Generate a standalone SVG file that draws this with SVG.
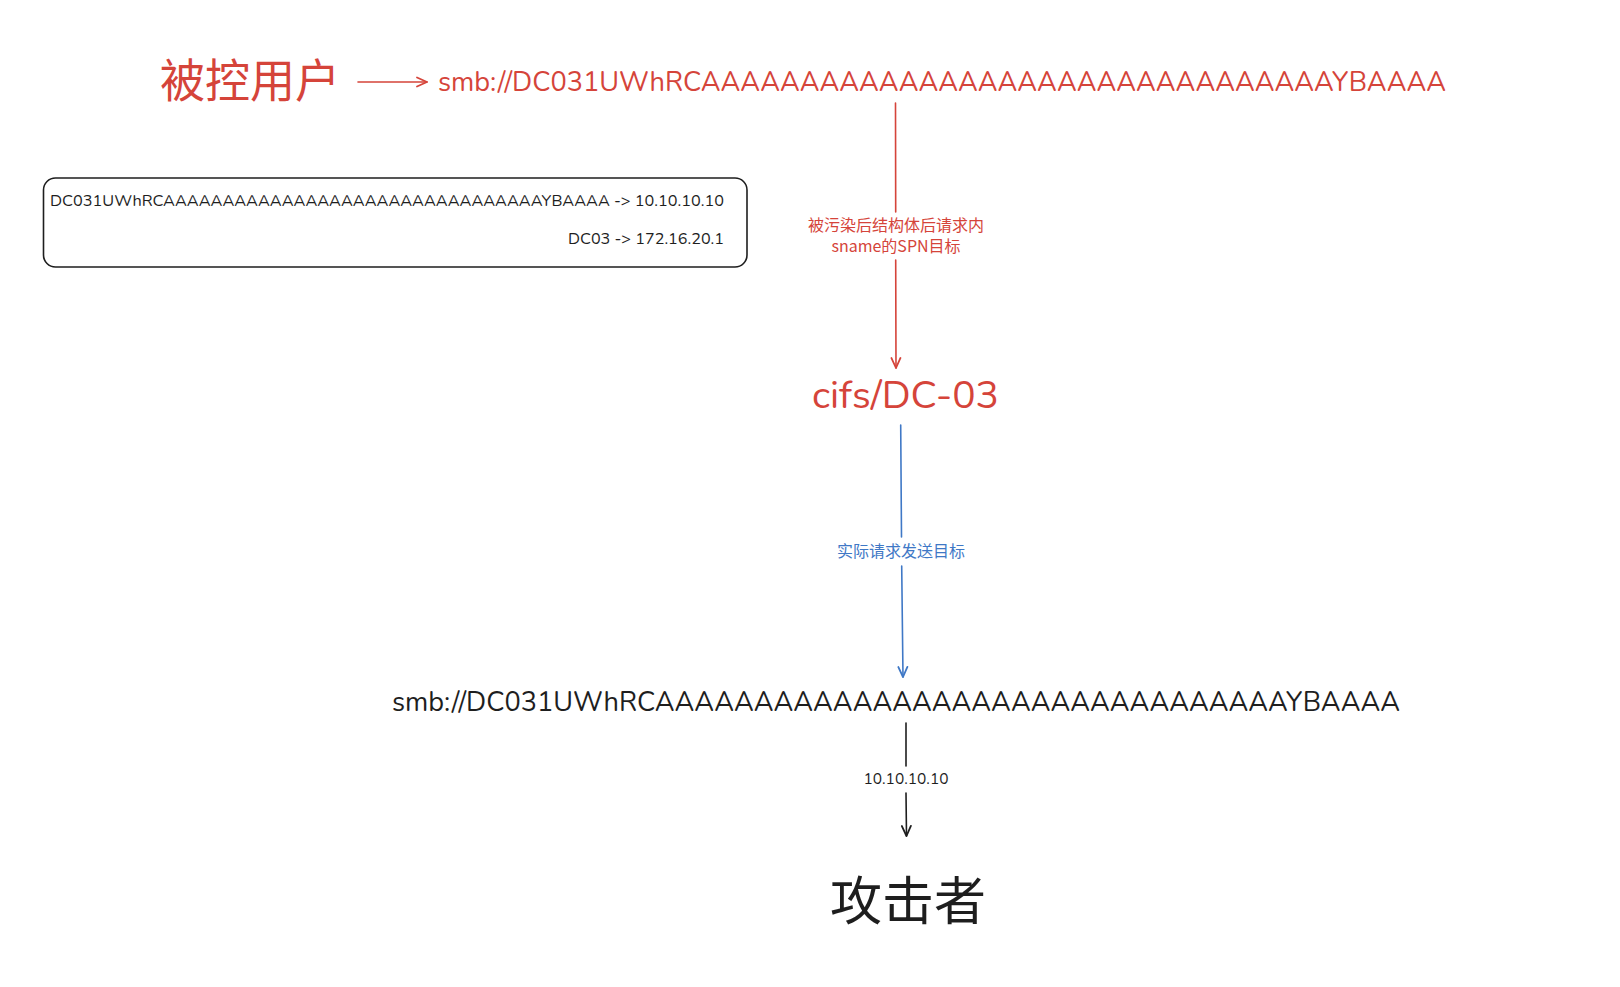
<svg xmlns="http://www.w3.org/2000/svg" width="1620" height="987" viewBox="0 0 1620 987">
<style>
.red{fill:#d5443a}
.blk{fill:#1e1e1e}
.blu{fill:#3f78c6}
.lat{font-family:"Nunito","Noto Sans","Liberation Sans",sans-serif}
.cjk{font-family:"Noto Sans CJK SC","Noto Sans",sans-serif}
.lr{stroke:#d5443a;stroke-width:1.6;fill:none;stroke-linecap:round}
.lb{stroke:#3f78c6;stroke-width:1.6;fill:none;stroke-linecap:round}
.lk{stroke:#1e1e1e;stroke-width:1.6;fill:none;stroke-linecap:round}
</style>
<defs>
<marker id="ar" viewBox="0 0 12 12" refX="11" refY="6" markerWidth="12" markerHeight="12" markerUnits="userSpaceOnUse" orient="auto"><path d="M1,1.5 L11,6 L1,10.5" fill="none" stroke="#d5443a" stroke-width="1.8" stroke-linecap="round" stroke-linejoin="round"/></marker>
<marker id="ab" viewBox="0 0 12 12" refX="11" refY="6" markerWidth="12" markerHeight="12" markerUnits="userSpaceOnUse" orient="auto"><path d="M1,1.5 L11,6 L1,10.5" fill="none" stroke="#3f78c6" stroke-width="1.8" stroke-linecap="round" stroke-linejoin="round"/></marker>
<marker id="ak" viewBox="0 0 12 12" refX="11" refY="6" markerWidth="12" markerHeight="12" markerUnits="userSpaceOnUse" orient="auto"><path d="M1,1.5 L11,6 L1,10.5" fill="none" stroke="#1e1e1e" stroke-width="1.8" stroke-linecap="round" stroke-linejoin="round"/></marker>
</defs>
<rect width="1620" height="987" fill="#ffffff"/>

<g id="victim">
<text class="red cjk" x="160" y="97" font-size="46" textLength="180" lengthAdjust="spacingAndGlyphs">被控用户</text>
</g>

<g id="smb-red">
<text class="red lat" x="438" y="91" font-size="28" textLength="1008" lengthAdjust="spacingAndGlyphs">smb://DC031UWhRCAAAAAAAAAAAAAAAAAAAAAAAAAAAAAAAAYBAAAA</text>
</g>

<g id="dns-box">
<rect x="43.5" y="178" width="703.5" height="89" rx="12" ry="12" fill="none" stroke="#1e1e1e" stroke-width="1.6"/>
<text class="blk lat" x="50" y="206" font-size="15.5" textLength="674" lengthAdjust="spacingAndGlyphs">DC031UWhRCAAAAAAAAAAAAAAAAAAAAAAAAAAAAAAAAYBAAAA -&gt; 10.10.10.10</text>
<text class="blk lat" x="568" y="244" font-size="15.5" textLength="156" lengthAdjust="spacingAndGlyphs">DC03 -&gt; 172.16.20.1</text>
</g>

<g id="spn">
<text class="red lat" x="812" y="408" font-size="39" textLength="187" lengthAdjust="spacingAndGlyphs">cifs/DC-03</text>
</g>

<g id="smb-black">
<text class="blk lat" x="392" y="711" font-size="27.5" textLength="1008" lengthAdjust="spacingAndGlyphs">smb://DC031UWhRCAAAAAAAAAAAAAAAAAAAAAAAAAAAAAAAAYBAAAA</text>
</g>

<g id="attacker">
<text class="blk cjk" x="908" y="920" font-size="52" text-anchor="middle">攻击者</text>
</g>

<g id="connectors">
<path class="lr" d="M895.5,103 L895.7,212"/>
<path class="lr" d="M895.7,260 L896,368" marker-end="url(#ar)"/>
<path class="lr" d="M358,82 L427,82" marker-end="url(#ar)"/>
<text class="red cjk" x="896" y="230.5" font-size="16" text-anchor="middle">被污染后结构体后请求内</text>
<text class="red cjk" x="896" y="252" font-size="16" text-anchor="middle">sname的SPN目标</text>

<path class="lb" d="M900.7,425 L901.5,537"/>
<path class="lb" d="M901.7,566 L903,677" marker-end="url(#ab)"/>
<text class="blu cjk" x="901" y="556.5" font-size="16" text-anchor="middle">实际请求发送目标</text>

<path class="lk" d="M906,723 L906,766"/>
<path class="lk" d="M906,793 L906.5,836" marker-end="url(#ak)"/>
<text class="blk lat" x="906" y="784" font-size="15.5" text-anchor="middle">10.10.10.10</text>
</g>
</svg>
